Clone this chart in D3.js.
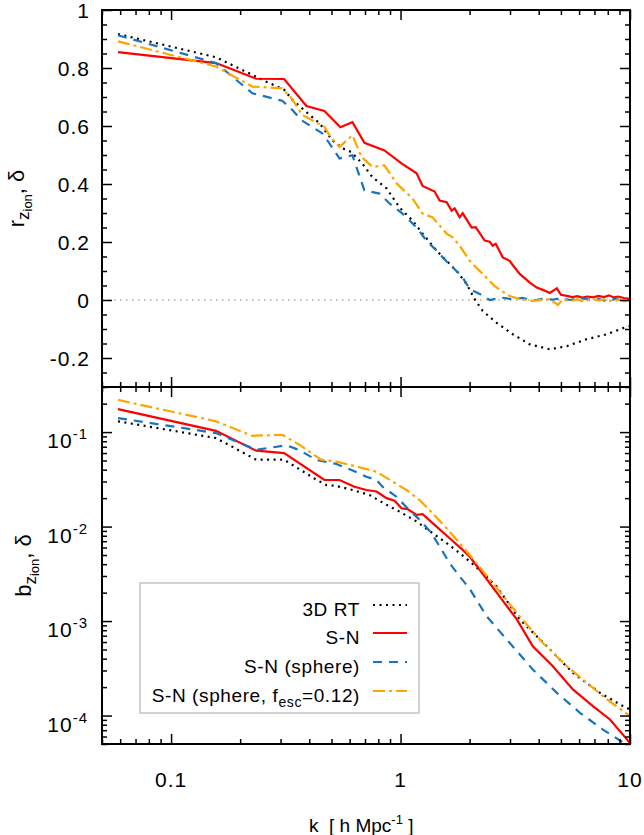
<!DOCTYPE html>
<html>
<head>
<meta charset="utf-8">
<script src="https://cdn.jsdelivr.net/npm/d3@7"></script>
<style>
  body { margin: 0; background: #fff; }
  svg text { font-family: "Liberation Sans", Arial, Helvetica, sans-serif; fill: #000; }
</style>
</head>
<body>
<svg width="644" height="835"></svg>
<script>
// ---- data: [k (h/Mpc), value] ----

// top panel: cross-correlation r
const rRT = [[0.0587,0.917],[0.157,0.837],[0.26,0.753],[0.311,0.725],[0.338,0.69],[0.413,0.63],[0.443,0.61],[0.505,0.55],[0.558,0.523],[0.611,0.51],[0.682,0.47],[0.755,0.423],[0.869,0.385],[0.99,0.319],[1.128,0.274],[1.248,0.229],[1.436,0.17],[1.588,0.135],[1.756,0.1],[1.942,0.055],[2.104,0.003],[2.281,-0.038],[2.625,-0.079],[3.084,-0.118],[3.659,-0.153],[4.475,-0.17],[5.309,-0.159],[6.489,-0.135],[7.937,-0.118],[9.32,-0.097],[10,-0.09]];
const rSN = [[0.0587,0.855],[0.157,0.817],[0.235,0.763],[0.311,0.762],[0.389,0.669],[0.466,0.652],[0.547,0.596],[0.617,0.613],[0.696,0.542],[0.851,0.516],[1.01,0.471],[1.175,0.437],[1.248,0.393],[1.408,0.374],[1.48,0.343],[1.588,0.337],[1.67,0.308],[1.721,0.316],[1.81,0.285],[1.866,0.299],[2.042,0.25],[2.126,0.251],[2.327,0.205],[2.446,0.201],[2.521,0.187],[2.599,0.194],[2.789,0.147],[2.992,0.135],[3.053,0.125],[3.308,0.09],[3.659,0.06],[3.926,0.043],[4.17,0.035],[4.475,0.024],[4.8,0.04],[5.0,0.018],[5.309,0.014],[5.6,0.01],[5.9,0.013],[6.2,0.008],[6.5,0.012],[6.9,0.009],[7.3,0.014],[7.7,0.01],[8.1,0.016],[8.5,0.009],[8.9,0.012],[9.4,0.007],[10,0.004]];
const rSphere = [[0.0587,0.913],[0.157,0.817],[0.226,0.713],[0.242,0.707],[0.305,0.687],[0.338,0.655],[0.37,0.62],[0.456,0.575],[0.49,0.54],[0.542,0.488],[0.617,0.499],[0.696,0.378],[0.81,0.367],[0.895,0.333],[1.02,0.298],[1.175,0.25],[1.299,0.204],[1.408,0.177],[1.604,0.129],[1.847,0.083],[2.001,0.038],[2.213,0.021],[2.446,0.0],[2.761,0.008],[3.1,0.002],[3.4,0.007],[3.8,-0.002],[4.2,0.005],[4.6,0.001],[5.0,0.006],[5.5,0.0],[6.0,0.007],[6.6,0.002],[7.2,0.005],[7.9,-0.004],[8.6,0.004],[9.3,-0.002],[10,0.0]];
const rFesc = [[0.0587,0.892],[0.157,0.805],[0.226,0.736],[0.305,0.73],[0.334,0.697],[0.373,0.638],[0.466,0.597],[0.49,0.568],[0.542,0.528],[0.617,0.568],[0.676,0.493],[0.755,0.459],[0.851,0.464],[0.961,0.402],[1.128,0.35],[1.248,0.298],[1.38,0.285],[1.588,0.229],[1.687,0.216],[1.81,0.187],[2.001,0.135],[2.281,0.09],[2.573,0.048],[2.761,0.031],[2.992,0.014],[3.308,0.003],[3.771,-0.003],[4.475,0.003],[4.85,-0.017],[5.1,0.002],[5.5,-0.004],[5.9,0.003],[6.3,-0.006],[6.8,0.004],[7.3,-0.002],[7.8,0.003],[8.4,-0.005],[9.0,0.002],[9.5,-0.004],[10,0.0]];

// bottom panel: bias b
const bRT = [[0.0587,0.13],[0.157,0.0864],[0.235,0.051],[0.311,0.051],[0.43,0.0313],[0.4752,0.0275],[0.5256,0.0269],[0.6172,0.0244],[0.732,0.0216],[0.869,0.017],[0.99,0.0144],[1.175,0.0113],[1.38,0.0085],[1.588,0.00668],[1.81,0.00524],[2.12,0.0038],[2.625,0.00232],[3.308,0.00104],[4.342,0.00054],[5.638,0.000283],[7.396,0.000174],[9.32,0.000126],[10,0.000116]];
const bSN = [[0.0587,0.175],[0.157,0.103],[0.235,0.0635],[0.311,0.06],[0.466,0.0311],[0.542,0.0311],[0.63,0.0264],[0.71,0.0244],[0.786,0.0235],[0.869,0.02],[0.942,0.0188],[1.01,0.0156],[1.073,0.0153],[1.175,0.0133],[1.248,0.0135],[1.436,0.01],[1.637,0.00753],[1.866,0.00567],[2.001,0.00482],[2.213,0.00349],[2.625,0.002],[3.212,0.00104],[3.771,0.00054],[4.611,0.000333],[5.638,0.000189],[6.893,0.000126],[8.178,0.000091],[9.7,0.000056],[10,0.000051]];
const bSphere = [[0.0587,0.1406],[0.157,0.0976],[0.235,0.065],[0.318,0.0724],[0.362,0.0646],[0.43,0.0506],[0.5256,0.0459],[0.611,0.0397],[0.71,0.0337],[0.786,0.0311],[0.8345,0.0264],[0.96,0.0207],[1.062,0.016],[1.211,0.0118],[1.366,0.0085],[1.48,0.00615],[1.637,0.0041],[1.81,0.00297],[2.0,0.0022],[2.374,0.00112],[2.992,0.000587],[3.771,0.000307],[4.8,0.000174],[6.05,0.000107],[7.622,0.000071],[9.32,0.000052],[10,0.000046]];
const bFesc = [[0.0587,0.219],[0.157,0.13],[0.226,0.0914],[0.305,0.0937],[0.362,0.0735],[0.45,0.051],[0.5256,0.0486],[0.649,0.043],[0.786,0.0381],[0.923,0.0299],[1.062,0.0244],[1.211,0.0191],[1.38,0.0138],[1.588,0.0096],[1.81,0.00668],[2.062,0.0046],[2.521,0.00252],[3.308,0.00112],[4.17,0.000587],[5.309,0.000333],[6.489,0.000222],[7.937,0.000148],[10,0.000099]];

// tick labels
const kTicks = [0.1, 1, 10];
const kTickLabels = ["0.1", "1", "10"];
const rTicks = [-0.2, 0, 0.2, 0.4, 0.6, 0.8, 1];
const rTickLabels = ["-0.2", "0", "0.2", "0.4", "0.6", "0.8", "1"];
const bTicks = [1e-4, 1e-3, 1e-2, 1e-1];
const bTickExps = ["-4", "-3", "-2", "-1"];

const seriesNames = ["3D RT", "S-N", "S-N (sphere)", "S-N (sphere, f_esc=0.12)"];
const seriesColors = ["#000000", "#ff0000", "#1874bd", "#ffa500"];
const seriesDash = ["2,4.5", null, "9,7", "12,4,3,4"];

// ---- layout ----
const plotLeft = 102, plotRight = 630;
let topPanel = {top: 10, bottom: 387};
let botPanel = {top: 387, bottom: 744};

const svg = d3.select("svg");

const x = d3.scaleLog().domain([0.05, 10]).range([plotLeft, plotRight]);
const yTop = d3.scaleLinear().domain([-0.3, 1]).range([topPanel.bottom, topPanel.top]);
const yBot = d3.scaleLog().domain([5e-5, 0.3]).range([botPanel.bottom, botPanel.top]);

const xMinor = x.ticks().filter(v => !kTicks.some(t => Math.abs(t - v) < 1e-9));
const yTopMinor = d3.range(-5, 20).map(i => i * 0.05).filter(v => !rTicks.some(t => Math.abs(t - v) < 1e-9));
const yBotMinor = yBot.ticks().filter(v => !bTicks.some(t => Math.abs(t / v - 1) < 1e-6));

const majorLen = 10, minorLen = 5;

function tickGroup(axis, transform) {
  svg.append("g")
    .attr("transform", transform)
    .call(axis)
    .call(g => g.select(".domain").remove())
    .selectAll("line").attr("stroke-width", 1.5);
}

function drawTicks(panel, y, yMajor, yMinor) {
  // X ticks, bottom and top of panel, pointing inward
  tickGroup(d3.axisBottom(x).tickValues(kTicks).tickSize(-majorLen).tickFormat(""), `translate(0,${panel.bottom})`);
  tickGroup(d3.axisBottom(x).tickValues(xMinor).tickSize(-minorLen).tickFormat(""), `translate(0,${panel.bottom})`);
  tickGroup(d3.axisTop(x).tickValues(kTicks).tickSize(-majorLen).tickFormat(""), `translate(0,${panel.top})`);
  tickGroup(d3.axisTop(x).tickValues(xMinor).tickSize(-minorLen).tickFormat(""), `translate(0,${panel.top})`);
  // Y ticks, left and right
  tickGroup(d3.axisLeft(y).tickValues(yMajor).tickSize(-majorLen).tickFormat(""), `translate(${plotLeft},0)`);
  tickGroup(d3.axisLeft(y).tickValues(yMinor).tickSize(-minorLen).tickFormat(""), `translate(${plotLeft},0)`);
  tickGroup(d3.axisRight(y).tickValues(yMajor).tickSize(-majorLen).tickFormat(""), `translate(${plotRight},0)`);
  tickGroup(d3.axisRight(y).tickValues(yMinor).tickSize(-minorLen).tickFormat(""), `translate(${plotRight},0)`);
}

function clipFor(id, panel) {
  svg.append("clipPath").attr("id", id)
    .append("rect")
    .attr("x", plotLeft).attr("y", panel.top)
    .attr("width", plotRight - plotLeft).attr("height", panel.bottom - panel.top);
}
clipFor("clipTop", topPanel);
clipFor("clipBot", botPanel);

//plot 1 - correlation coefficient
const gTop = svg.append("g").attr("clip-path", "url(#clipTop)");

gTop.append("line")
  .attr("x1", plotLeft).attr("x2", plotRight)
  .attr("y1", yTop(0)).attr("y2", yTop(0))
  .attr("stroke", "#aaaaaa")
  .attr("stroke-width", 1.5)
  .attr("stroke-dasharray", "1.5,4.5");

const lineTop = d3.line().x(d => x(d[0])).y(d => yTop(d[1]));
[rRT, rSN, rSphere, rFesc].forEach((s, i) => {
  gTop.append("path")
    .attr("d", lineTop(s))
    .attr("fill", "none")
    .attr("stroke", seriesColors[i])
    .attr("stroke-width", 2.2)
    .attr("stroke-dasharray", seriesDash[i]);
});

//plot 2 - bias
const gBot = svg.append("g").attr("clip-path", "url(#clipBot)");
const lineBot = d3.line().x(d => x(d[0])).y(d => yBot(d[1]));
[bRT, bSN, bSphere, bFesc].forEach((s, i) => {
  gBot.append("path")
    .attr("d", lineBot(s))
    .attr("fill", "none")
    .attr("stroke", seriesColors[i])
    .attr("stroke-width", 2.2)
    .attr("stroke-dasharray", seriesDash[i]);
});

// frames + ticks
drawTicks(topPanel, yTop, rTicks, yTopMinor);
drawTicks(botPanel, yBot, bTicks, yBotMinor);
[topPanel, botPanel].forEach(p => {
  svg.append("rect")
    .attr("x", plotLeft).attr("y", p.top)
    .attr("width", plotRight - plotLeft).attr("height", p.bottom - p.top)
    .attr("fill", "none").attr("stroke", "#000").attr("stroke-width", 2);
});

// Y tick labels, top
svg.selectAll(".rlab").data(rTicks).enter().append("text")
  .attr("x", 90)
  .attr("y", d => yTop(d))
  .attr("dy", "0.36em")
  .attr("text-anchor", "end")
  .attr("font-size", "21px")
  .style("letter-spacing", "1px")
  .text((d, i) => rTickLabels[i]);

// Y tick labels, bottom (10^n)
const blab = svg.selectAll(".blab").data(bTicks).enter().append("text")
  .attr("x", 88)
  .attr("y", d => yBot(d) + 16)
  .attr("text-anchor", "end")
  .attr("font-size", "21px")
  .style("letter-spacing", "1px");
blab.append("tspan").text("10");
blab.append("tspan").attr("dy", -9).attr("font-size", "15px").text((d, i) => bTickExps[i]);

// X tick labels
svg.selectAll(".klab").data(kTicks).enter().append("text")
  .attr("x", d => x(d))
  .attr("y", 787)
  .attr("text-anchor", "middle")
  .attr("font-size", "21px")
  .style("letter-spacing", "1px")
  .text((d, i) => kTickLabels[i]);

// X label
const xl = svg.append("text")
  .attr("x", 309).attr("y", 832)
  .attr("font-size", "19px")
  .style("white-space", "pre");
xl.append("tspan").text("k  [ h Mpc");
xl.append("tspan").attr("dy", -8).attr("font-size", "13px").text("-1");
xl.append("tspan").attr("dy", 8).text(" ]");

// Y labels
function yLabel(letter, cx, cy) {
  const t = svg.append("text")
    .attr("transform", `translate(${cx},${cy}) rotate(-90)`)
    .attr("text-anchor", "middle")
    .attr("font-size", "22px")
    .style("white-space", "pre");
  t.append("tspan").text(letter);
  t.append("tspan").attr("dy", 5).attr("font-size", "17px").text("z");
  t.append("tspan").attr("dy", 3).attr("font-size", "13px").text("ion");
  t.append("tspan").attr("dy", -8).text(", δ");
}
yLabel("r", 24, (topPanel.top + topPanel.bottom) / 2);
yLabel("b", 31, (botPanel.top + botPanel.bottom) / 2);

// legend
const legend = svg.append("g");
legend.append("rect")
  .attr("x", 140).attr("y", 583)
  .attr("width", 279).attr("height", 130)
  .attr("fill", "#fff")
  .attr("stroke", "#c4c4c4")
  .attr("stroke-width", 1.5);

const legendRows = [605, 633, 662, 691];
seriesNames.forEach((name, i) => {
  const t = legend.append("text")
    .attr("x", 360).attr("y", legendRows[i] + 11)
    .attr("text-anchor", "end")
    .attr("font-size", "19px")
    .style("letter-spacing", "0.6px");
  if (name.includes("_esc")) {
    const parts = name.split("_esc");
    t.append("tspan").text(parts[0]);
    t.append("tspan").attr("dy", 5).attr("font-size", "14px").text("esc");
    t.append("tspan").attr("dy", -5).text(parts[1]);
  } else {
    t.text(name);
  }
  legend.append("line")
    .attr("x1", 373).attr("x2", 407)
    .attr("y1", legendRows[i]).attr("y2", legendRows[i])
    .attr("stroke", seriesColors[i])
    .attr("stroke-width", 2.2)
    .attr("stroke-dasharray", seriesDash[i]);
});
</script>
</body>
</html>
